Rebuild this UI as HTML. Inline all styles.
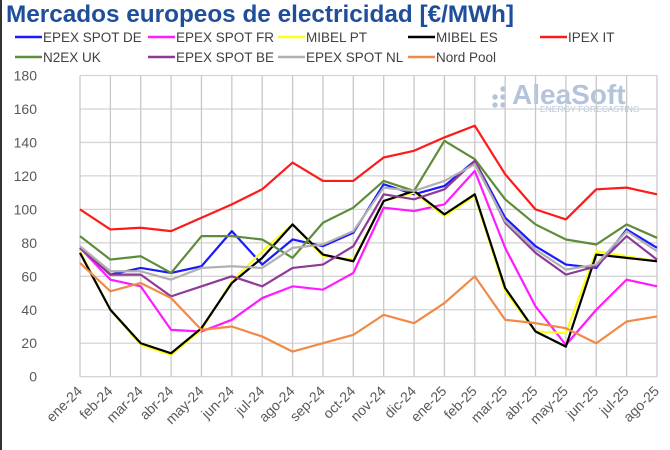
<!DOCTYPE html>
<html><head><meta charset="utf-8"><style>
body{margin:0;background:#fff;}
svg{display:block;font-family:"Liberation Sans",sans-serif;}
</style></head><body>
<svg id="chart" width="670" height="450">
<rect x="0" y="0" width="2" height="450" fill="#333"/>
<text x="6" y="22" font-size="24" font-weight="bold" fill="#1f4e9a" textLength="508" lengthAdjust="spacingAndGlyphs">Mercados europeos de electricidad [€/MWh]</text>
<g id="legend"></g>
<g>
<text x="512" y="104" font-size="28" font-weight="bold" fill="#b4c3dc">AleaSoft</text>
<text x="540" y="112" font-size="8.5" fill="#b4c3dc">ENERGY FORECASTING</text>
<circle cx="495" cy="97" r="2.7" fill="#b4c3dc"/><circle cx="503" cy="97" r="2.7" fill="#b4c3dc"/><circle cx="503" cy="89" r="2.7" fill="#b4c3dc"/><circle cx="503" cy="105" r="2.7" fill="#b4c3dc"/><circle cx="495" cy="105" r="2.7" fill="#b4c3dc"/>
</g>
<g id="grid"></g>
<g id="series"></g>
<g id="axes"></g>
</svg>
<script>
const categories=["ene-24","feb-24","mar-24","abr-24","may-24","jun-24","jul-24","ago-24","sep-24","oct-24","nov-24","dic-24","ene-25","feb-25","mar-25","abr-25","may-25","jun-25","jul-25","ago-25"];
const yTicks=[0,20,40,60,80,100,120,140,160,180];
const seriesNames=["EPEX SPOT DE","EPEX SPOT FR","MIBEL PT","MIBEL ES","IPEX IT","N2EX UK","EPEX SPOT BE","EPEX SPOT NL","Nord Pool"];
const seriesColors=["#1a1aff","#ff1aff","#ffff1a","#000000","#ff1a1a","#5e8c3a","#8e3a96","#b0b0b0","#f08a46"];
const deValues=[77,61,65,62,66,87,67,82,78,86,115,109,114,129,95,78,67,65,88,77];
const frValues=[77,58,54,28,27,34,47,54,52,62,101,99,103,123,77,42,19,40,58,54];
const ptValues=[75,40,19,13,28,57,75,91,72,70,105,110,96,108,51,27,26,75,72,69];
const esValues=[74,40,20,14,29,56,71,91,73,69,105,111,97,109,53,27,18,73,71,69];
const itValues=[100,88,89,87,95,103,112,128,117,117,131,135,143,150,121,100,94,112,113,109];
const ukValues=[84,70,72,62,84,84,82,71,92,101,117,111,141,130,106,91,82,79,91,83];
const beValues=[77,61,61,48,54,60,54,65,67,78,109,106,112,129,92,74,61,66,84,70];
const nlValues=[78,63,63,58,65,66,65,77,79,87,113,111,117,127,93,76,64,67,87,75];
const nordValues=[68,51,56,47,28,30,24,15,20,25,37,32,44,60,34,32,29,20,33,36];
const allSeries=[deValues,frValues,ptValues,esValues,itValues,ukValues,beValues,nlValues,nordValues];

const NS="http://www.w3.org/2000/svg";
const L=80,R=657,T=75.5,B=376.7,YMAX=180;
const xs=i=>L+i*(R-L)/(categories.length-1);
const ys=v=>B-v*(B-T)/YMAX;
function mk(tag,attrs,parent){const e=document.createElementNS(NS,tag);for(const k in attrs)e.setAttribute(k,attrs[k]);parent.appendChild(e);return e;}
const grid=document.getElementById('grid'),axes=document.getElementById('axes'),ser=document.getElementById('series'),leg=document.getElementById('legend');
yTicks.forEach(v=>{
 const l=mk('line',{x1:L,x2:R,y1:ys(v),y2:ys(v),stroke:'#d4d4d4','stroke-width':1.3},grid);
 
 
 const t=mk('text',{x:37,y:ys(v)+5,'text-anchor':'end','font-size':14,fill:'#595959'},axes);
 t.textContent=v;
 
 
});
categories.forEach((c,i)=>{
 const l=mk('line',{x1:xs(i),x2:xs(i),y1:T,y2:B,stroke:'#c8c8c8','stroke-width':1.3},grid);
 
 
 const x=xs(i)+3,y=392;
 const t=mk('text',{x:x,y:y,'text-anchor':'end','font-size':14,fill:'#595959',transform:`rotate(-45 ${x} ${y})`},axes);
 t.textContent=c;
 
 
});
allSeries.forEach((vals,s)=>{
 const p=mk('polyline',{points:vals.map((v,i)=>xs(i)+','+ys(v)).join(' '),fill:'none',stroke:seriesColors[s],'stroke-width':2.2,'stroke-linejoin':'round'},ser);
 
 
});
const colX=[15,148,278,408,540];
seriesNames.forEach((n,s)=>{
 const cx=colX[s%5],cy=s<5?37:57;
 const g=mk('g',{},leg);
 
 
 mk('line',{x1:cx,x2:cx+27,y1:cy,y2:cy,stroke:seriesColors[s],'stroke-width':2.5},g);
 const t=mk('text',{x:cx+28,y:cy+5,'font-size':13.5,fill:'#404040'},g);
 t.textContent=n;
});
</script>
</body></html>
